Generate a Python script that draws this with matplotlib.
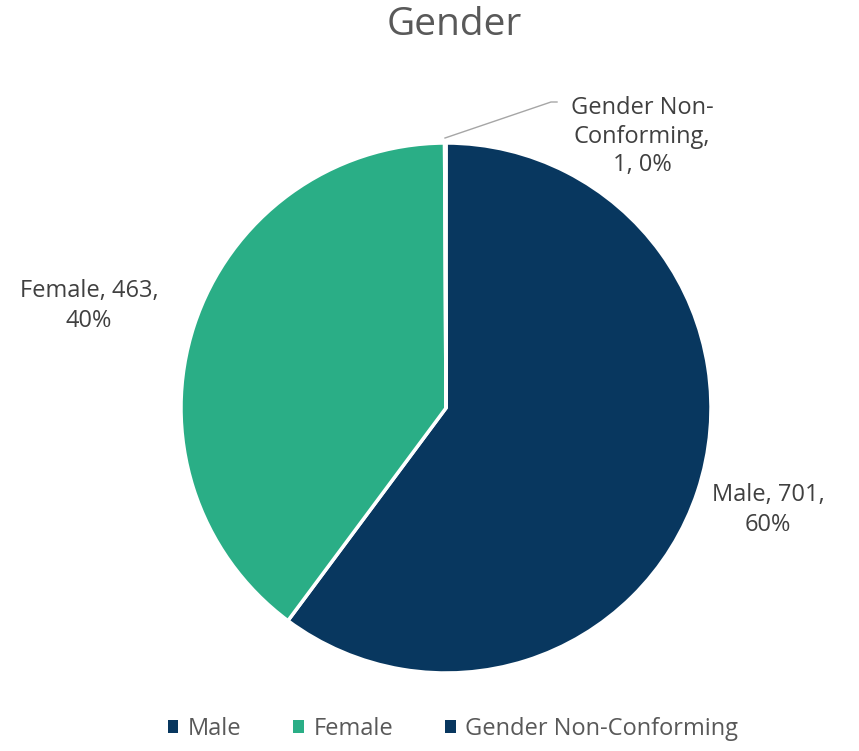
import matplotlib.pyplot as plt
from matplotlib.patches import Patch

categories = ['Male', 'Female', 'Gender Non-Conforming']
counts = [701, 463, 1]
colors = ['#08375F', '#2AAE86', '#08375F']

W, H = 859, 751
fig = plt.figure(figsize=(W / 100, H / 100), dpi=100)
plt.rcParams['font.family'] = ['Open Sans', 'DejaVu Sans']

# pie axes placed so the circle sits at (446, 408) px with radius 265 px
cx, cy, r = 446, 408, 265
ax = fig.add_axes([(cx - r) / W, (H - cy - r) / H, 2 * r / W, 2 * r / H])
ax.pie(counts, colors=colors, startangle=90, counterclock=False, radius=1,
       wedgeprops=dict(edgecolor='white', linewidth=2.5))
ax.set_xlim(-1, 1)
ax.set_ylim(-1, 1)
ax.set_aspect('equal')
ax.axis('off')

total = sum(counts)
pcts = [round(100 * c / total) for c in counts]
txt = '#595959'

def px(x, y):
    return x / W, 1 - y / H

fig.text(*px(454, 25), 'Gender', ha='center', va='center', fontsize=28, color=txt)

fig.text(*px(89, 306), f'{categories[1]}, {counts[1]},\n{pcts[1]}%', ha='center', va='center',
         fontsize=17, color='#404040', linespacing=1.3)
fig.text(*px(768, 510), f'{categories[0]}, {counts[0]},\n{pcts[0]}%', ha='center', va='center',
         fontsize=17, color='#404040', linespacing=1.3)
fig.text(*px(642, 137), f'Gender Non-\nConforming,\n{counts[2]}, {pcts[2]}%', ha='center', va='center',
         fontsize=17, color='#404040', linespacing=1.25)

# leader line for the tiny slice
fig.add_artist(plt.Line2D([445 / W, 551 / W, 557 / W], [1 - 138 / H, 1 - 102 / H, 1 - 102 / H],
                          color='#A6A6A6', linewidth=1))

handles = [Patch(facecolor=c, edgecolor='none') for c in colors]
leg = fig.legend(handles, categories, loc='center', bbox_to_anchor=px(453, 729), ncol=3,
                 frameon=False, fontsize=17, handlelength=0.45, handleheight=0.45,
                 handletextpad=0.4, columnspacing=2.2)
for t in leg.get_texts():
    t.set_color(txt)

fig.savefig('out.png', dpi=100)
